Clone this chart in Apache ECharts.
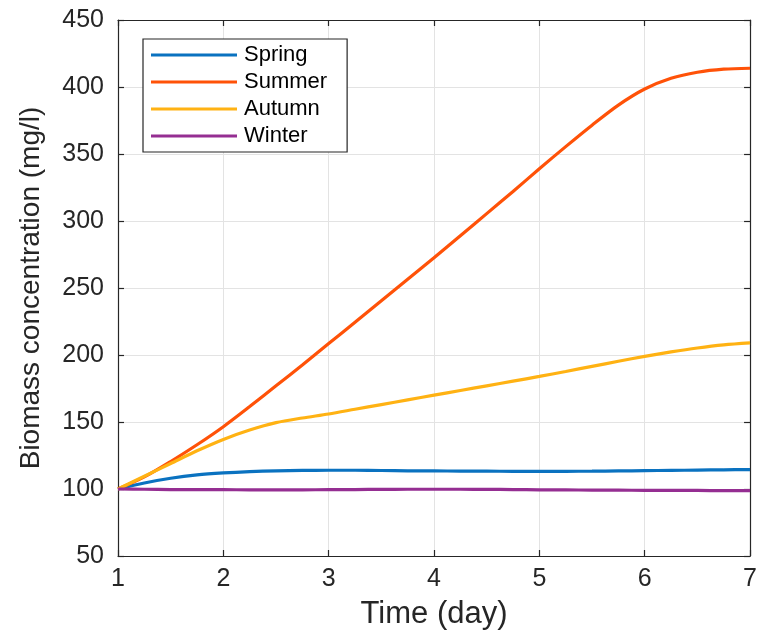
<!DOCTYPE html>
<html>
<head>
<meta charset="utf-8">
<script src="https://cdn.jsdelivr.net/npm/echarts@6/dist/echarts.min.js"></script>
<style>
  html, body { margin: 0; padding: 0; background: #ffffff; }
  #chart { width: 760px; height: 635px; }
</style>
</head>
<body>
<div id="chart"></div>
<script>
// Time axis (days) shared by all four seasonal runs
const days = [1, 1.25, 1.5, 1.75, 2, 2.25, 2.5, 2.75, 3, 3.25, 3.5, 3.75, 4,
              4.25, 4.5, 4.75, 5, 5.25, 5.5, 5.75, 6, 6.25, 6.5, 6.75, 7];

// Biomass concentration (mg/l) per season
const spring = [100, 104.5, 108, 110.5, 112, 113, 113.6, 113.9, 114, 114, 113.8, 113.6, 113.5,
                113.4, 113.3, 113.2, 113.2, 113.2, 113.3, 113.5, 113.7, 113.9, 114.1, 114.3, 114.5];
const summer = [100, 109, 120.5, 133, 146.5, 161.5, 177, 192.5, 208.5, 224.5, 240.5, 256.5, 272.5,
                289, 305.5, 322, 339, 355.5, 371.5, 386.5, 398.5, 406.5, 411, 413.3, 414];
const autumn = [100, 109.5, 119, 128.5, 137, 144, 149.5, 153, 156, 159.5, 163, 166.5, 170,
                173.5, 177, 180.5, 184, 187.7, 191.5, 195.3, 199, 202.3, 205.2, 207.5, 209];
const winter = [100, 99.8, 99.6, 99.5, 99.5, 99.4, 99.4, 99.4, 99.5, 99.6, 99.7, 99.8, 99.8,
                99.8, 99.7, 99.6, 99.4, 99.3, 99.2, 99.1, 99.0, 98.9, 98.9, 98.8, 98.8];

const seasonNames = ['Spring', 'Summer', 'Autumn', 'Winter'];
const seasonColors = ['#0A72C0', '#FF5208', '#FFB213', '#952E92'];
const seasonData = [spring, summer, autumn, winter];

const FONT = '"Liberation Sans", Arial, Helvetica, sans-serif';
const INK = '#262626';

function pairs(ys) {
  return days.map((d, i) => [d, ys[i]]);
}

const chart = echarts.init(document.getElementById('chart'), null, { renderer: 'canvas' });

// Top and right axes only close the frame and carry inward ticks
const frameAxis = {
  axisLine: { show: true, lineStyle: { color: INK, width: 1.2 } },
  axisTick: { show: true, inside: true, length: 6, lineStyle: { color: INK, width: 1.2 } },
  splitLine: { show: false },
  axisLabel: { show: false }
};

chart.setOption({
  animation: false,
  backgroundColor: '#ffffff',
  grid: { left: 118, right: 7, top: 20, bottom: 77, show: false },
  legend: {
    left: 143,
    top: 39,
    orient: 'vertical',
    data: seasonNames,
    icon: 'rect',
    itemWidth: 86,
    itemHeight: 3,
    itemGap: 5,
    padding: [5, 20, 5, 8],
    backgroundColor: '#ffffff',
    borderColor: INK,
    borderWidth: 1.2,
    borderRadius: 0,
    textStyle: { fontFamily: FONT, fontSize: 22, color: '#000000', lineHeight: 22, padding: [0, 0, 0, 2] }
  },
  xAxis: [
    {
      type: 'value',
      min: 1,
      max: 7,
      interval: 1,
      name: 'Time (day)',
      nameLocation: 'middle',
      nameGap: 43,
      nameTextStyle: { fontFamily: FONT, fontSize: 31, color: INK },
      axisLine: { show: true, onZero: false, lineStyle: { color: INK, width: 1.2 } },
      axisTick: { show: true, inside: true, length: 6, lineStyle: { color: INK, width: 1.2 } },
      axisLabel: { fontFamily: FONT, fontSize: 25, color: INK, margin: 11 },
      splitLine: { show: true, lineStyle: { color: '#e3e3e3', width: 1 } }
    },
    Object.assign({ type: 'value', position: 'top', min: 1, max: 7, interval: 1 }, frameAxis)
  ],
  yAxis: [
    {
      type: 'value',
      min: 50,
      max: 450,
      interval: 50,
      name: 'Biomass concentration (mg/l)',
      nameLocation: 'middle',
      nameGap: 73,
      nameRotate: 90,
      nameTextStyle: { fontFamily: FONT, fontSize: 28, color: INK },
      axisLine: { show: true, onZero: false, lineStyle: { color: INK, width: 1.2 } },
      axisTick: { show: true, inside: true, length: 6, lineStyle: { color: INK, width: 1.2 } },
      axisLabel: { fontFamily: FONT, fontSize: 25, color: INK, margin: 14 },
      splitLine: { show: true, lineStyle: { color: '#e3e3e3', width: 1 } }
    },
    Object.assign({ type: 'value', position: 'right', min: 50, max: 450, interval: 50 }, frameAxis)
  ],
  series: seasonNames.map((name, i) => ({
    name: name,
    type: 'line',
    xAxisIndex: 0,
    yAxisIndex: 0,
    data: pairs(seasonData[i]),
    smooth: 0.3,
    symbol: 'none',
    color: seasonColors[i],
    lineStyle: { width: 3.2, color: seasonColors[i] },
    z: 3 + i
  }))
});
</script>
</body>
</html>
